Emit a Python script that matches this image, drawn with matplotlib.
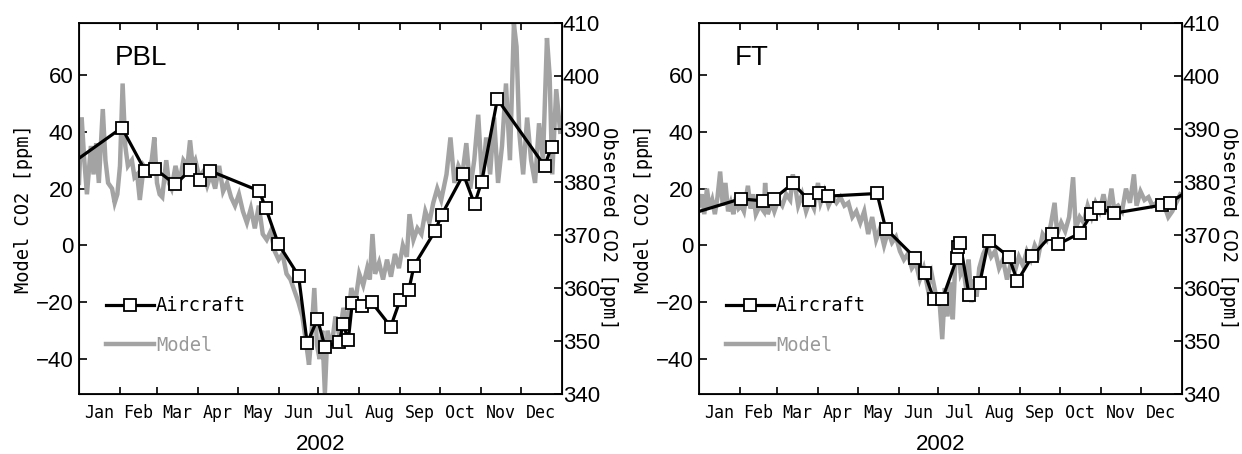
import numpy as np
import matplotlib.pyplot as plt
from matplotlib.lines import Line2D

# month boundaries (day of year) and labels
month_starts = [0, 31, 59, 90, 120, 151, 181, 212, 243, 273, 304, 334, 365]
month_labels = ['Jan', 'Feb', 'Mar', 'Apr', 'May', 'Jun',
                'Jul', 'Aug', 'Sep', 'Oct', 'Nov', 'Dec']

# ---- PBL ----
pbl_air_day = [-12, 32.4, 50.0, 57.8, 72.8, 84.1, 91.9, 98.8, 136.2, 141.2,
               150.8, 166.1, 172.6, 180.4, 186.1, 196.8, 199.9, 203.7, 206.7,
               214.2, 221.4, 235.8, 242.9, 249.6, 253.4, 269.3, 274.4, 290.8,
               299.2, 304.6, 316.5, 352.2, 357.5]
pbl_air_co2 = [382.3, 390.2, 382.1, 382.4, 379.5, 382.2, 380.4, 382.1, 378.3,
               375.1, 368.3, 362.3, 349.6, 354.1, 348.9, 349.8, 353.2, 350.1,
               357.1, 356.5, 357.3, 352.7, 357.7, 359.7, 364.2, 370.7, 373.8,
               381.4, 375.8, 380.0, 395.6, 383.0, 386.6]

pbl_model_day = [0, 2, 4, 6, 9, 11, 13, 15, 18, 20, 22, 25, 27, 29, 31, 33, 35,
                 37, 40, 42, 44, 46, 49, 52, 55, 57, 59, 61, 63, 66, 68, 70, 73,
                 76, 79, 82, 84, 86, 88, 91, 94, 97, 100, 103, 106, 109, 112,
                 115, 118, 121, 124, 127, 130, 133, 136, 139, 142, 145, 148, 151,
                 154, 157, 160, 163, 166, 169, 172, 174, 176, 178, 180, 182, 184,
                 186, 188, 191, 194, 197, 200, 203, 206, 209, 212, 215, 218, 220,
                 222, 224, 227, 230, 233, 236, 239, 242, 245, 248, 250, 253, 256,
                 259, 262, 265, 268, 271, 274, 278, 281, 284, 287, 290, 293, 296,
                 299, 302, 305, 308, 311, 314, 317, 320, 323, 326, 329, 331, 333,
                 336, 339, 342, 345, 348, 351, 354, 356, 358, 361, 364]
pbl_model_co2 = [22, 45, 30, 18, 35, 25, 36, 22, 48, 30, 22, 20, 15, 18, 28, 57,
                 35, 28, 30, 24, 25, 16, 28, 26, 30, 38, 22, 18, 17, 30, 22, 20,
                 28, 22, 30, 28, 37, 28, 30, 24, 26, 21, 25, 20, 28, 19, 22, 17,
                 14, 18, 12, 8, 13, 6, 14, 4, 2, 5, -2, -5, -3, -10, -12, -16,
                 -20, -25, -35, -42, -30, -15, -35, -40, -30, -52, -30, -36, -25,
                 -32, -22, -28, -15, -20, -10, -14, -8, -12, 4, -10, -6, -12, -5,
                 -11, -3, -8, 0, -4, 11, 2, 6, 4, 12, 8, 15, 20, 16, 25, 38, 22,
                 28, 25, 36, 20, 30, 46, 22, 38, 25, 45, 22, 35, 57, 30, 78, 70,
                 40, 25, 45, 30, 22, 43, 30, 73, 60, 25, 55, 40]

# ---- FT ----
ft_air_day = [-12, 31.5, 48.5, 56.6, 71.0, 82.9, 90.7, 97.3, 134.7, 141.2,
              163.4, 170.6, 177.5, 184.1, 195.1, 196.0, 197.5, 204.3, 212.4,
              219.0, 234.3, 240.9, 252.2, 266.9, 271.3, 288.1, 296.8, 302.7,
              314.2, 350.0, 356.0, 372]
ft_air_co2 = [373.5, 376.8, 376.4, 376.8, 379.7, 376.6, 377.8, 377.3, 377.8,
              371.2, 365.7, 362.9, 358.0, 357.9, 365.6, 367.8, 368.4, 358.7,
              360.9, 368.9, 365.9, 361.3, 366.0, 370.1, 368.2, 370.3, 373.9,
              375.0, 374.1, 375.6, 376.0, 378.7]

ft_model_day = [0, 2, 4, 6, 8, 10, 12, 14, 16, 18, 20, 22, 24, 26, 28, 30, 32,
                34, 37, 39, 41, 43, 46, 49, 50, 52, 55, 57, 60, 63, 66, 69, 71,
                73, 75, 78, 81, 84, 87, 90, 92, 95, 98, 101, 104, 107, 110, 113,
                116, 119, 122, 125, 128, 131, 134, 137, 140, 143, 146, 149, 152,
                155, 158, 161, 164, 167, 170, 173, 176, 179, 182, 184, 186, 188,
                190, 192, 194, 196, 198, 200, 202, 204, 206, 208, 210, 212, 215,
                218, 221, 224, 227, 230, 233, 236, 239, 242, 245, 248, 251, 254,
                257, 260, 263, 266, 269, 271, 274, 277, 280, 283, 285, 288, 291,
                294, 297, 300, 303, 306, 309, 312, 314, 317, 320, 323, 326, 329,
                331, 334, 337, 340, 343, 346, 349, 352, 355, 358, 361, 364]
ft_model_co2 = [14, 18, 11, 20, 13, 16, 11, 17, 26, 14, 22, 12, 15, 11, 17, 13,
                14, 12, 21, 13, 18, 11, 14, 12, 22, 11, 15, 12, 16, 14, 18, 16,
                25, 20, 14, 18, 12, 16, 13, 22, 15, 19, 14, 17, 15, 17, 14, 15,
                10, 12, 8, 12, 4, 10, 2, 6, 0, 5, 1, 3, -2, -5, -3, -8, -6, -12,
                -8, -15, -10, -17, -20, -33, -15, -25, -13, -26, -5, 0, -10, -8,
                -15, -5, -20, -12, -18, -8, -3, 0, -4, -2, -8, -5, -12, -6, -9,
                -4, -7, -2, -5, 0, -3, 4, 2, 7, 15, 4, 8, 5, 10, 24, 6, 10, 8,
                14, 10, 15, 12, 18, 11, 20, 13, 14, 12, 20, 15, 25, 14, 19, 16,
                17, 14, 15, 13, 14, 10, 12, 15, 18]

panels = [
    ('PBL', pbl_model_day, pbl_model_co2, pbl_air_day, pbl_air_co2, 79),
    ('FT', ft_model_day, ft_model_co2, ft_air_day, ft_air_co2, 699),
]

narrow = ['Liberation Sans Narrow', 'Arial Narrow', 'Liberation Sans', 'DejaVu Sans']
mono = ['DejaVu Sans Mono', 'DejaVu Sans']
model_color = '0.64'

W, H = 1242, 454
fig = plt.figure(figsize=(W / 100, H / 100), dpi=100)

mids = [(a + b) / 2 for a, b in zip(month_starts[:-1], month_starts[1:])]

for name, mday, mco2, aday, aco2, left_px in panels:
    ax = fig.add_axes([left_px / W, (H - 394) / H, 482.5 / W, 371.3 / H])
    ax.plot(mday, mco2, color=model_color, lw=3.2, solid_joinstyle='miter')
    ax.set_xlim(0, 365)
    ax.set_ylim(-52.3, 78.4)
    ax.set_yticks([-40, -20, 0, 20, 40, 60])
    ax.set_xticks(month_starts[1:-1])
    ax.set_xticks(mids, minor=True)
    ax.set_xticklabels([])
    ax.set_xticklabels(month_labels, minor=True, fontfamily=mono, fontsize=12)
    ax.tick_params(axis='x', which='major', direction='in', top=True,
                   length=5, width=1.2)
    ax.tick_params(axis='x', which='minor', length=0, pad=7)
    ax.tick_params(axis='y', direction='in', length=6, width=1.2, pad=4,
                   labelsize=16)
    for lab in ax.get_yticklabels():
        lab.set_fontfamily(narrow)
    for sp in ax.spines.values():
        sp.set_linewidth(1.3)

    ax2 = ax.twinx()
    ax2.plot(aday, aco2, color='black', lw=2.3, marker='s', ms=8.5,
             mfc='white', mec='black', mew=1.3)
    ax2.set_ylim(340, 410)
    ax2.set_yticks(range(340, 411, 10))
    ax2.tick_params(axis='y', direction='in', length=6, width=1.2, pad=1,
                    labelsize=16)
    for lab in ax2.get_yticklabels():
        lab.set_fontfamily(narrow)

    ax.text(-0.116, 0.5, 'Model CO2 [ppm]', rotation=90, ha='center',
            va='center', transform=ax.transAxes, fontfamily=mono, fontsize=13.5)
    ax.text(1.098, 0.447, 'Observed CO2 [ppm]', rotation=270, ha='center',
            va='center', transform=ax.transAxes, fontfamily=mono, fontsize=13.5)
    ax.text(0.5, -0.137, '2002', ha='center', va='center',
            transform=ax.transAxes, fontfamily=narrow, fontsize=16)
    ax.text(0.075, 0.94, name, ha='left', va='top', transform=ax.transAxes,
            fontfamily=narrow, fontsize=20)

    handles = [
        Line2D([], [], color='black', lw=2.3, marker='s', ms=8.5, mfc='white',
               mec='black', mew=1.3),
        Line2D([], [], color=model_color, lw=3.2),
    ]
    leg = ax2.legend(handles, ['Aircraft', 'Model'], loc='lower left',
                     bbox_to_anchor=(0.02, 0.06), frameon=False,
                     prop={'family': mono, 'size': 13.5}, handlelength=2.6,
                     handletextpad=0.1, labelspacing=1.1,
                     labelcolor=['black', '0.6'])

fig.savefig('out.png', dpi=100)
